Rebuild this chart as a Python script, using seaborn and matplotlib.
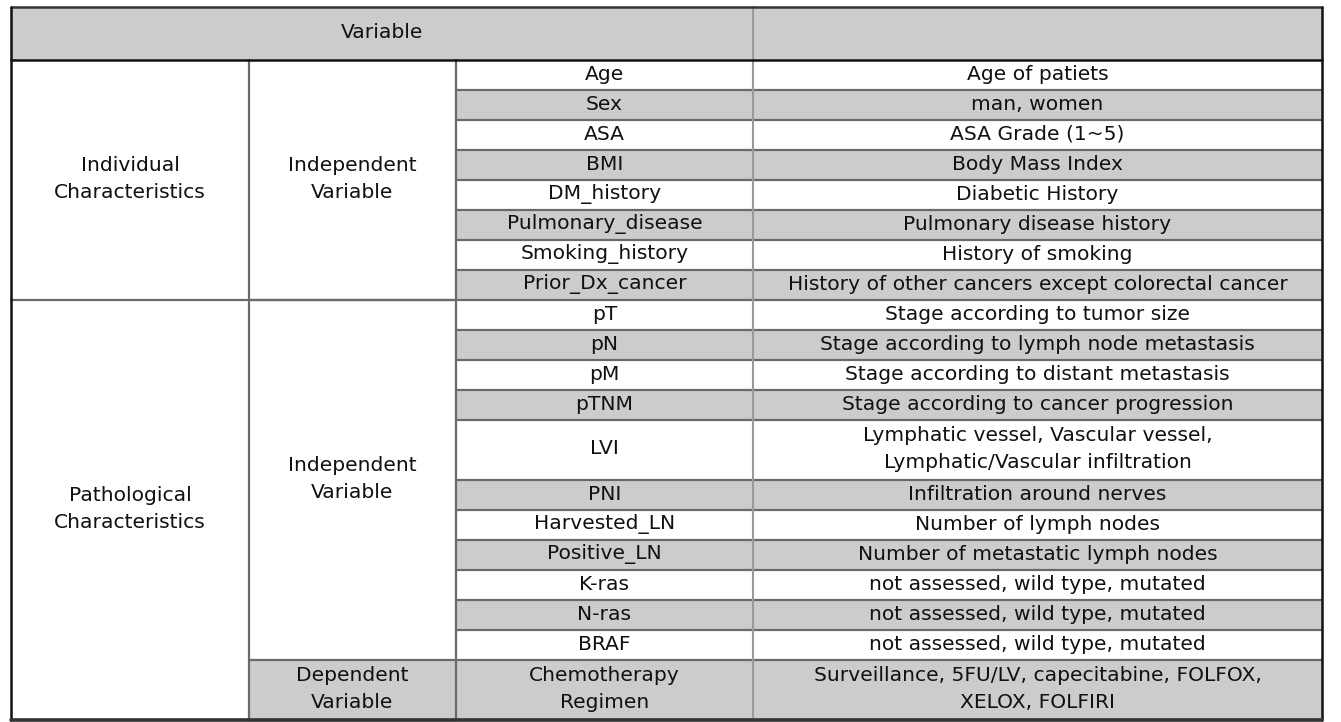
import matplotlib
matplotlib.use("Agg")
import matplotlib.pyplot as plt
import seaborn as sns
from matplotlib.patches import Rectangle

# ─────────────────────────────────────────────────────────────────────────────
# Data
# ─────────────────────────────────────────────────────────────────────────────

header = "Variable"

groups = ["Individual\nCharacteristics", "Pathological\nCharacteristics"]
group_units = [8, 14]

roles = ["Independent\nVariable", "Independent\nVariable", "Dependent\nVariable"]
role_units = [8, 12, 2]
role_shaded = [False, False, True]

variables = [
    "Age", "Sex", "ASA", "BMI", "DM_history", "Pulmonary_disease",
    "Smoking_history", "Prior_Dx_cancer",
    "pT", "pN", "pM", "pTNM", "LVI", "PNI", "Harvested_LN", "Positive_LN",
    "K-ras", "N-ras", "BRAF", "Chemotherapy\nRegimen",
]
descriptions = [
    "Age of patiets", "man, women", "ASA Grade (1~5)", "Body Mass Index",
    "Diabetic History", "Pulmonary disease history", "History of smoking",
    "History of other cancers except colorectal cancer",
    "Stage according to tumor size",
    "Stage according to lymph node metastasis",
    "Stage according to distant metastasis",
    "Stage according to cancer progression",
    "Lymphatic vessel, Vascular vessel,\nLymphatic/Vascular infiltration",
    "Infiltration around nerves",
    "Number of lymph nodes",
    "Number of metastatic lymph nodes",
    "not assessed, wild type, mutated",
    "not assessed, wild type, mutated",
    "not assessed, wild type, mutated",
    "Surveillance, 5FU/LV, capecitabine, FOLFOX,\nXELOX, FOLFIRI",
]
row_units = [1, 1, 1, 1, 1, 1, 1, 1, 1, 1, 1, 1, 2, 1, 1, 1, 1, 1, 1, 2]
shaded = [False, True, False, True, False, True, False, True,
          False, True, False, True, False, True, False, True,
          False, True, False, True]

# ─────────────────────────────────────────────────────────────────────────────
# Layout (pixels)
# ─────────────────────────────────────────────────────────────────────────────

W, H = 1341, 722
col_x = [11, 249, 456, 753, 1322]
top, head_bottom, unit = 7, 60, 30
GRAY = "#cccccc"
INNER = "#6a6a6a"
LIGHT = "#9a9a9a"
FS = 14.6

sns.set_theme(style="white")
plt.rcParams["font.family"] = ["DejaVu Sans"]

fig = plt.figure(figsize=(W / 100, H / 100), dpi=100)
ax = fig.add_axes([0, 0, 1, 1])
ax.set_xlim(0, W)
ax.set_ylim(H, 0)
ax.axis("off")


def cell(x0, x1, y0, y1, text, fill=None, fs=FS):
    if fill:
        ax.add_patch(Rectangle((x0, y0), x1 - x0, y1 - y0, facecolor=fill,
                               edgecolor="none", zorder=1))
    if text:
        ax.text((x0 + x1) / 2, (y0 + y1) / 2 - 1, text, ha="center",
                va="center", fontsize=fs, color="#111111", linespacing=1.55,
                zorder=3)


# header
cell(col_x[0], col_x[3], top, head_bottom, header, GRAY)
cell(col_x[3], col_x[4], top, head_bottom, "", GRAY)
ax.plot([col_x[3], col_x[3]], [top, head_bottom], color=LIGHT, lw=1.5, zorder=2)

# group column
y = head_bottom
for g, n in zip(groups, group_units):
    cell(col_x[0], col_x[1], y, y + n * unit, g)
    y += n * unit
    ax.plot([col_x[0], col_x[2]], [y, y], color=INNER, lw=1.6, zorder=2)

# role column
y = head_bottom
for r, n, s in zip(roles, role_units, role_shaded):
    cell(col_x[1], col_x[2], y, y + n * unit, r, GRAY if s else None)
    y += n * unit
    ax.plot([col_x[1], col_x[2]], [y, y], color=INNER, lw=1.6, zorder=2)

# variable / description columns
y = head_bottom
for v, d, n, s in zip(variables, descriptions, row_units, shaded):
    fill = GRAY if s else None
    cell(col_x[2], col_x[3], y, y + n * unit, v, fill)
    cell(col_x[3], col_x[4], y, y + n * unit, d, fill)
    y += n * unit
    ax.plot([col_x[2], col_x[4]], [y, y], color=INNER, lw=1.6, zorder=2)

bottom = y

# vertical lines
ax.plot([col_x[1], col_x[1]], [head_bottom, bottom], color=INNER, lw=1.6, zorder=2)
ax.plot([col_x[2], col_x[2]], [head_bottom, bottom], color=INNER, lw=1.6, zorder=2)
ax.plot([col_x[3], col_x[3]], [head_bottom, bottom], color=LIGHT, lw=1.5, zorder=2)

# header rule and outer frame
ax.plot([col_x[0], col_x[4]], [head_bottom, head_bottom], color="#111111", lw=1.8, zorder=4)
ax.plot([col_x[0], col_x[4]], [top, top], color="#333333", lw=1.8, zorder=4)
ax.plot([col_x[0], col_x[0]], [top, bottom], color="#111111", lw=1.8, zorder=4)
ax.plot([col_x[4], col_x[4]], [top, bottom], color="#111111", lw=1.8, zorder=4)
ax.plot([col_x[0], col_x[4]], [bottom, bottom], color="#333333", lw=2.6, zorder=4)

fig.savefig("out.png", dpi=100)
